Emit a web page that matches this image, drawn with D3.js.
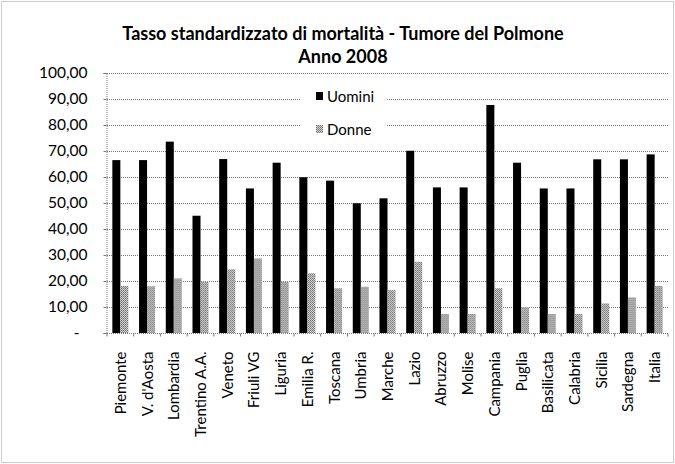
<!DOCTYPE html>
<html><head><meta charset="utf-8">
<script src="https://cdn.jsdelivr.net/npm/d3@7"></script>
<style>body{margin:0;background:#fff}svg{display:block}text{font-family:Lato,"Open Sans",sans-serif;fill:#000}</style>
</head><body><div id="c"></div>
<script>
const categories = ["Piemonte","V. d'Aosta","Lombardia","Trentino A.A.","Veneto","Friuli VG","Liguria","Emilia R.","Toscana","Umbria","Marche","Lazio","Abruzzo","Molise","Campania","Puglia","Basilicata","Calabria","Sicilia","Sardegna","Italia"];
const uomini = [66.5,66.5,73.6,45.1,66.9,55.6,65.5,59.9,58.6,49.9,51.8,70.1,56.0,56.0,87.7,65.5,55.6,55.6,66.8,66.8,68.7];
const donne = [18.1,18.0,21.0,19.7,24.5,28.7,19.7,23.0,17.2,17.8,16.5,27.4,7.3,7.3,17.2,9.9,7.3,7.3,11.4,13.7,18.1];
const seriesNames = ["Uomini","Donne"];
const yTicks = [0,10,20,30,40,50,60,70,80,90,100];
const title1 = "Tasso standardizzato di mortalità - Tumore del Polmone";
const title2 = "Anno 2008";

const W=675,H=464;
const svg=d3.select("#c").append("svg").attr("width",W).attr("height",H);
const defs=svg.append("defs");
const pat=defs.append("pattern").attr("id","dots").attr("width",2).attr("height",2).attr("patternUnits","userSpaceOnUse");
pat.append("rect").attr("width",2).attr("height",2).attr("fill","#d4d4d4");
pat.append("rect").attr("width",1).attr("height",1).attr("fill","#6e6e6e");
pat.append("rect").attr("x",1).attr("y",1).attr("width",1).attr("height",1).attr("fill","#858585");

// outer border
svg.append("rect").attr("x",1.5).attr("y",1.5).attr("width",W-3).attr("height",H-3)
  .attr("fill","none").attr("stroke","#999").attr("stroke-dasharray","1,1");

const L=107,R=668,T=73,B=333;
const x0=d3.scaleBand().domain(categories).range([L,R]).paddingInner(0).paddingOuter(0);
const bw=x0.bandwidth(), gap=bw*0.4;
const x1=d3.scaleBand().domain(seriesNames).range([gap/2,bw-gap/2]);
const y=d3.scaleLinear().domain([0,100]).range([B,T]);

// gridlines
svg.append("g").selectAll("line").data(yTicks.filter(d=>d>0)).join("line")
  .attr("x1",L).attr("x2",R).attr("y1",d=>y(d)+0.5).attr("y2",d=>y(d)+0.5)
  .attr("stroke","#777").attr("stroke-dasharray","1,1");

// y axis
const ya=svg.append("g").attr("transform",`translate(${L-0.5},0)`)
  .call(d3.axisLeft(y).tickValues(yTicks).tickSize(3).tickPadding(16)
  .tickFormat(d=>d===0?"-":d3.format(".2f")(d).replace(".",",")));
ya.select(".domain").attr("stroke","#777").attr("stroke-dasharray","1,1");
ya.selectAll(".tick line").attr("stroke","#777");
ya.selectAll(".tick text").attr("font-size",15.5).style("font-family","Lato,sans-serif");
ya.selectAll(".tick text").filter(d=>d===0).attr("x",-27);

// bars
const data=categories.map((c,i)=>({c,vals:[{k:"Uomini",v:uomini[i]},{k:"Donne",v:donne[i]}]}));
const g=svg.append("g").selectAll("g").data(data).join("g").attr("transform",d=>`translate(${x0(d.c)},0)`);
g.selectAll("rect").data(d=>d.vals).join("rect")
  .attr("x",d=>x1(d.k)).attr("width",x1.bandwidth())
  .attr("y",d=>y(d.v)).attr("height",d=>B-y(d.v))
  .attr("fill",d=>d.k==="Uomini"?"#000":"url(#dots)");

// x axis
const xa=svg.append("g").attr("transform",`translate(0,${B+0.5})`);
xa.append("line").attr("x1",L).attr("x2",R).attr("stroke","#777").attr("stroke-dasharray","1,1");
xa.selectAll("line.t").data(categories.concat(["__end"])).join("line").attr("class","t")
  .attr("x1",(d,i)=>L+i*bw).attr("x2",(d,i)=>L+i*bw).attr("y1",0).attr("y2",3).attr("stroke","#777");
xa.selectAll("text").data(categories).join("text")
  .attr("transform",d=>`translate(${x0(d)+bw/2+5.5},18) rotate(-90)`)
  .attr("text-anchor","end").attr("font-size",15).text(d=>d);

// title
svg.append("text").attr("x",343).attr("y",40).attr("text-anchor","middle").attr("font-weight","bold").attr("font-size",18).text(title1);
svg.append("text").attr("x",343).attr("y",63).attr("text-anchor","middle").attr("font-weight","bold").attr("font-size",18).text(title2);

// legend
const lg=svg.append("g");
lg.append("rect").attr("x",301).attr("y",86).attr("width",86).attr("height",54).attr("fill","#fff");
const li=lg.selectAll("g").data(seriesNames).join("g").attr("transform",(d,i)=>`translate(316,${92+i*33})`);
li.append("rect").attr("width",7).attr("height",8).attr("fill",d=>d==="Uomini"?"#000":"url(#dots)");
li.append("text").attr("x",11).attr("y",9.5).attr("font-size",15).text(d=>d);
</script></body></html>
